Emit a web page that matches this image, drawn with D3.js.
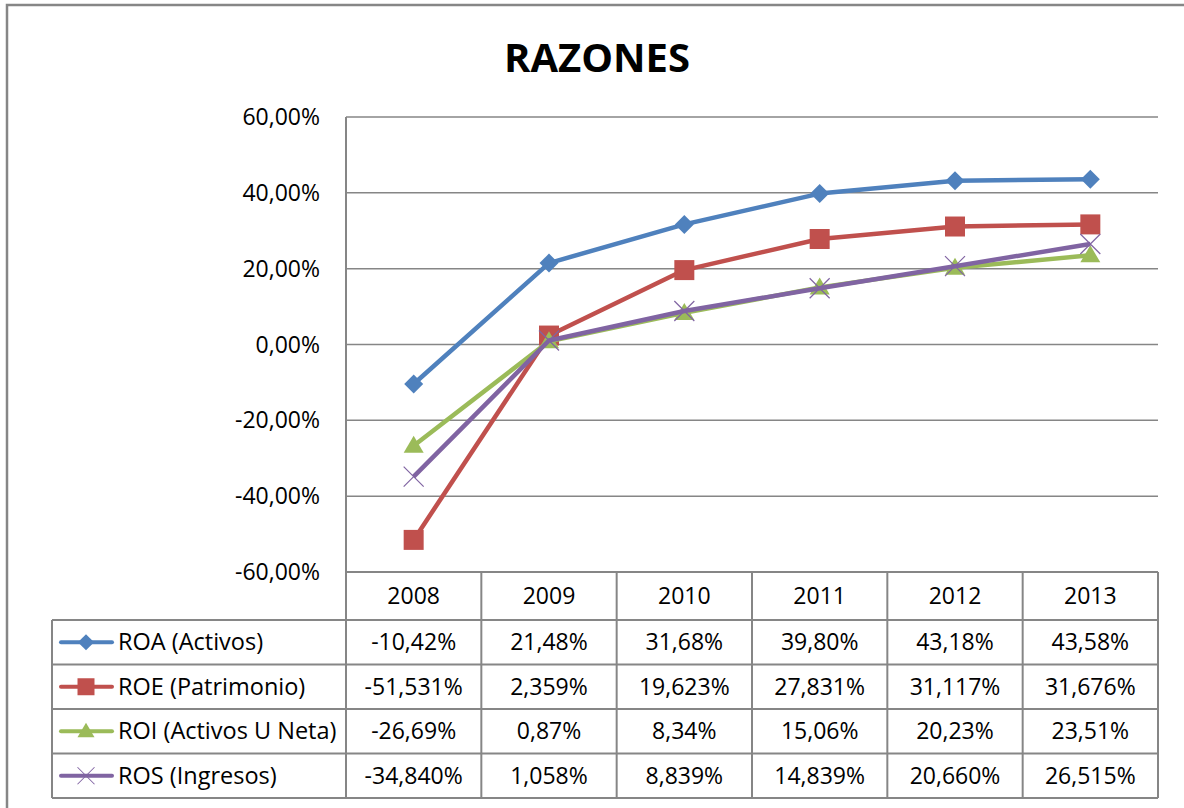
<!DOCTYPE html>
<html>
<head>
<meta charset="utf-8">
<script src="https://cdn.jsdelivr.net/npm/d3@7"></script>
<style>
  body { margin: 0; background: #fff; }
  svg text { font-family: "Open Sans", "Liberation Sans", sans-serif; fill: #000; }
</style>
</head>
<body>
<svg id="main" width="1184" height="808"></svg>
<script>
// chart data
var years = ["2008", "2009", "2010", "2011", "2012", "2013"];
var seriesNames = ["ROA (Activos)", "ROE (Patrimonio)", "ROI (Activos U Neta)", "ROS (Ingresos)"];
var roa = [-10.42, 21.48, 31.68, 39.80, 43.18, 43.58];
var roe = [-51.531, 2.359, 19.623, 27.831, 31.117, 31.676];
var roi = [-26.69, 0.87, 8.34, 15.06, 20.23, 23.51];
var ros = [-34.840, 1.058, 8.839, 14.839, 20.660, 26.515];
var decimals = [2, 3, 2, 3];
var yTicks = [-60, -40, -20, 0, 20, 40, 60];

var colors = ["#4f81bd", "#c0504d", "#9bbb59", "#8064a2"];
var markers = ["diamond", "square", "triangle", "cross"];
var grid = "#868686";

var series = [roa, roe, roi, ros].map(function(v, i) {
  return { name: seriesNames[i], values: v, color: colors[i], marker: markers[i], dec: decimals[i] };
});

var svg = d3.select("#main");

// plot area box
var plot = { left: 346, right: 1158, top: 117, bottom: 572 };
var table = { left: 52, headBottom: 620, rowH: 44.5 };

var x = d3.scaleBand().domain(years).range([plot.left, plot.right]);
var y = d3.scaleLinear().domain([-60, 60]).range([plot.bottom, plot.top]);

// comma decimal format with a plain hyphen, like the original
function fmt(v, d) {
  return d3.format("." + d + "f")(v).replace(".", ",").replace("\u2212", "-") + "%";
}

// outer chart border (runs past the window on right/bottom)
svg.append("path")
  .attr("d", "M7,820 V5 H1200")
  .attr("fill", "none")
  .attr("stroke", grid)
  .attr("stroke-width", 2.5);

svg.append("text")
  .attr("x", 597)
  .attr("y", 72)
  .attr("text-anchor", "middle")
  .style("font-weight", 700)
  .style("font-size", "40px")
  .text("RAZONES");

// gridlines
svg.append("g")
  .selectAll("line")
  .data(yTicks)
  .enter()
  .append("line")
  .attr("x1", plot.left)
  .attr("x2", plot.right)
  .attr("y1", function(d) { return y(d); })
  .attr("y2", function(d) { return y(d); })
  .attr("stroke", grid)
  .attr("stroke-width", 1.5);

// y axis labels
svg.append("g")
  .selectAll("text")
  .data(yTicks)
  .enter()
  .append("text")
  .attr("x", 320)
  .attr("y", function(d) { return y(d); })
  .attr("dy", "0.35em")
  .attr("text-anchor", "end")
  .style("font-size", "23px")
  .text(function(d) { return fmt(d, 2); });

// ---- data table ----
var rowsBottom = table.headBottom + table.rowH * series.length;
var tg = svg.append("g").attr("stroke", grid).attr("stroke-width", 2).attr("fill", "none");

// horizontal lines
tg.append("line").attr("x1", plot.left).attr("x2", plot.right).attr("y1", plot.bottom).attr("y2", plot.bottom);
series.forEach(function(s, i) {
  var yy = table.headBottom + table.rowH * i;
  tg.append("line").attr("x1", table.left).attr("x2", plot.right).attr("y1", yy).attr("y2", yy);
});
tg.append("line").attr("x1", table.left).attr("x2", plot.right).attr("y1", rowsBottom).attr("y2", rowsBottom);

// vertical lines
tg.append("line").attr("x1", plot.left).attr("x2", plot.left).attr("y1", plot.top).attr("y2", rowsBottom);
tg.append("line").attr("x1", table.left).attr("x2", table.left).attr("y1", table.headBottom).attr("y2", rowsBottom);
years.forEach(function(yr) {
  var xx = x(yr) + x.bandwidth();
  tg.append("line").attr("x1", xx).attr("x2", xx).attr("y1", plot.bottom).attr("y2", rowsBottom);
});

// header years
svg.append("g")
  .selectAll("text")
  .data(years)
  .enter()
  .append("text")
  .attr("x", function(d) { return x(d) + x.bandwidth() / 2; })
  .attr("y", (plot.bottom + table.headBottom) / 2)
  .attr("dy", "0.35em")
  .attr("text-anchor", "middle")
  .style("font-size", "23px")
  .text(function(d) { return d; });

// markers, drawn as small paths centred on 0,0
var markerPaths = {
  diamond: "M0,-9.5 L9.5,0 L0,9.5 L-9.5,0 Z",
  square: "M-10,-10 H10 V10 H-10 Z",
  triangle: "M0,-10 L10,7 L-10,7 Z",
  cross: "M-10,-10 L10,10 M10,-10 L-10,10"
};

function drawMarker(sel, s) {
  sel.append("path")
    .attr("d", markerPaths[s.marker])
    .attr("fill", s.marker === "cross" ? "none" : s.color)
    .attr("stroke", s.color)
    .attr("stroke-width", s.marker === "cross" ? 1.2 : 0);
}

// table rows: legend key + values
series.forEach(function(s, i) {
  var cy = table.headBottom + table.rowH * (i + 0.5);
  var row = svg.append("g");

  row.append("line")
    .attr("x1", 61).attr("x2", 112)
    .attr("y1", cy).attr("y2", cy)
    .attr("stroke", s.color)
    .attr("stroke-width", 4)
    .attr("stroke-linecap", "round");
  drawMarker(row.append("g").attr("transform", "translate(86," + cy + ") scale(0.85)"), s);

  row.append("text")
    .attr("x", 118)
    .attr("y", cy)
    .attr("dy", "0.35em")
    .style("font-size", "23.5px")
    .text(s.name);

  row.selectAll("text.val")
    .data(s.values)
    .enter()
    .append("text")
    .attr("class", "val")
    .attr("x", function(d, j) { return x(years[j]) + x.bandwidth() / 2; })
    .attr("y", cy)
    .attr("dy", "0.35em")
    .attr("text-anchor", "middle")
    .style("font-size", "23px")
    .text(function(d) { return fmt(d, s.dec); });
});

// ---- lines ----
var line = d3.line()
  .x(function(d, j) { return x(years[j]) + x.bandwidth() / 2; })
  .y(function(d) { return y(d); });

series.forEach(function(s) {
  var g = svg.append("g");
  g.append("path")
    .attr("d", line(s.values))
    .attr("fill", "none")
    .attr("stroke", s.color)
    .attr("stroke-width", 4.5)
    .attr("stroke-linejoin", "round");
  s.values.forEach(function(v, j) {
    drawMarker(
      g.append("g").attr("transform", "translate(" + (x(years[j]) + x.bandwidth() / 2) + "," + y(v) + ")"),
      s
    );
  });
});
</script>
</body>
</html>
